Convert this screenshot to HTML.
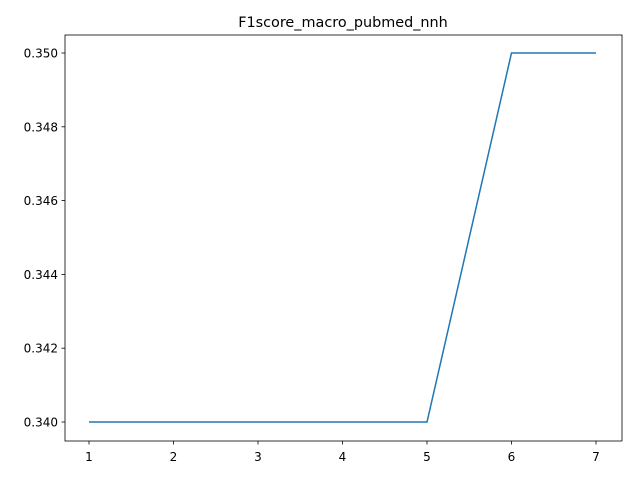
<!DOCTYPE html>
<html><head><meta charset="utf-8"><style>
body{margin:0;background:#fff;}
svg{display:block;font-family:"DejaVu Sans","Liberation Sans",sans-serif;}
</style></head><body>
<svg id="chart" width="640" height="480">
<rect x="0" y="0" width="640" height="480" fill="#fff"/>
<text x="343" y="27" font-size="14.4" text-anchor="middle">F1score_macro_pubmed_nnh</text>
<g id="xticks"></g>
<g id="yticks"></g>
<polyline id="line" fill="none" stroke="#1f77b4" stroke-width="1.5"/>
<rect x="65" y="35" width="557" height="406" fill="none" stroke="#000" stroke-width="0.8"/>
</svg>
<script>
const xValues=[1,2,3,4,5,6,7];
const yValues=[0.340,0.340,0.340,0.340,0.340,0.350,0.350];
const xTickLabels=["1","2","3","4","5","6","7"];
const yTickValues=[0.340,0.342,0.344,0.346,0.348,0.350];
const ns="http://www.w3.org/2000/svg";
function sx(v){return 89+(v-1)*(596-89)/6;}
function sy(v){return 422-(v-0.340)*(422-53)/0.010;}
const xg=document.getElementById('xticks'),yg=document.getElementById('yticks');
xTickLabels.forEach((l,i)=>{
 const x=sx(xValues[i]);
 const t=document.createElementNS(ns,'line');
 t.setAttribute('x1',x);t.setAttribute('x2',x);t.setAttribute('y1',441);t.setAttribute('y2',444.5);t.setAttribute('stroke','#000');t.setAttribute('stroke-width','0.8');
 
 
 xg.appendChild(t);
 const tx=document.createElementNS(ns,'text');
 tx.setAttribute('x',x);tx.setAttribute('y',461);tx.setAttribute('font-size','12');tx.setAttribute('text-anchor','middle');tx.textContent=l;
 
 
 xg.appendChild(tx);
});
yTickValues.forEach(v=>{
 const y=sy(v);
 const t=document.createElementNS(ns,'line');
 t.setAttribute('x1',61.5);t.setAttribute('x2',65);t.setAttribute('y1',y);t.setAttribute('y2',y);t.setAttribute('stroke','#000');t.setAttribute('stroke-width','0.8');
 
 
 yg.appendChild(t);
 const tx=document.createElementNS(ns,'text');
 tx.setAttribute('x',58);tx.setAttribute('y',y+4.5);tx.setAttribute('font-size','12');tx.setAttribute('text-anchor','end');tx.textContent=v.toFixed(3);
 
 
 yg.appendChild(tx);
});
document.getElementById('line').setAttribute('points',xValues.map((x,i)=>sx(x)+','+sy(yValues[i])).join(' '));
</script>
</body></html>
